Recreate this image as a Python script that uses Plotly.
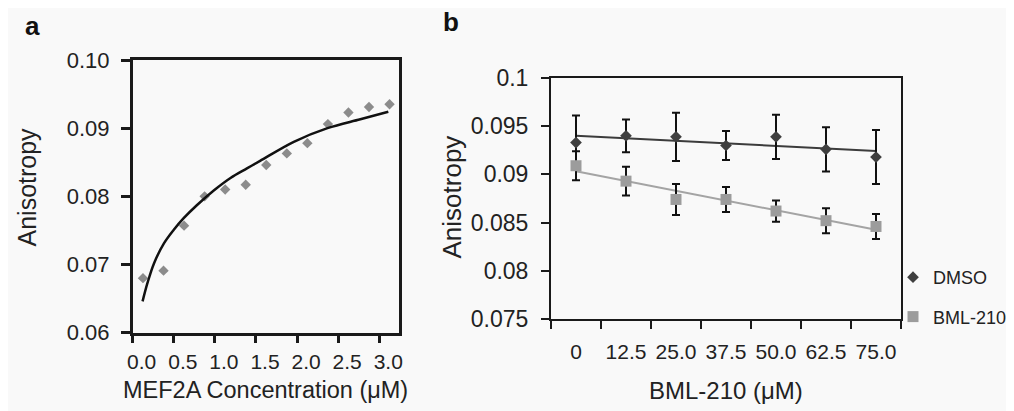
import numpy as np
import plotly.graph_objects as go

W, H = 1014, 411
OFF = 8  # page body margin offset
FONT = "Liberation Sans, Arial, sans-serif"

# ---------------- Panel a data ----------------
mef2a_conc = [0.125, 0.375, 0.625, 0.875, 1.125, 1.375, 1.625, 1.875, 2.125, 2.375, 2.625, 2.875, 3.125]
mef2a_aniso = [0.0680, 0.0691, 0.0757, 0.0800, 0.0810, 0.0817, 0.0846, 0.0863, 0.0878, 0.0906, 0.0923, 0.0931, 0.0935]
fit_conc = [0.12, 0.18, 0.26, 0.38, 0.50, 0.62, 0.78, 0.99, 1.19, 1.39, 1.55, 1.96, 2.37, 2.77, 3.11]
fit_aniso = [0.0646, 0.0673, 0.0702, 0.0731, 0.0751, 0.0768, 0.0787, 0.0809, 0.0827, 0.0841, 0.0852, 0.0880, 0.0900, 0.0913, 0.0924]
a_xticks = [0.0, 0.5, 1.0, 1.5, 2.0, 2.5, 3.0]
a_yticks = [0.06, 0.07, 0.08, 0.09, 0.10]

# ---------------- Panel b data ----------------
bml_categories = ["0", "12.5", "25.0", "37.5", "50.0", "62.5", "75.0"]
dmso_vals = [0.0933, 0.0940, 0.0939, 0.0930, 0.0939, 0.0926, 0.0918]
dmso_err = [0.0028, 0.0017, 0.0025, 0.0015, 0.0023, 0.0023, 0.0028]
bml_vals = [0.0909, 0.0893, 0.0874, 0.0874, 0.0862, 0.0852, 0.0846]
bml_err = [0.0015, 0.0015, 0.0016, 0.0013, 0.0011, 0.0013, 0.0013]
b_yticks = [0.075, 0.08, 0.085, 0.09, 0.095, 0.1]
b_yticktext = ["0.075", "0.08", "0.085", "0.09", "0.095", "0.1"]

# linear trendlines (least squares, as the spreadsheet trendline)
idx = np.arange(1, len(bml_categories) + 1)
dmso_fit = np.polyval(np.polyfit(idx, dmso_vals, 1), idx)
bml_fit = np.polyval(np.polyfit(idx, bml_vals, 1), idx)

def px_x(p):
    return (p - OFF) / W

def px_y(p):
    return 1 - (p - OFF) / H

fig = go.Figure()

# Panel a
fig.add_trace(go.Scatter(x=mef2a_conc, y=mef2a_aniso, mode="markers",
                         marker=dict(symbol="diamond", size=8, color="#8c8c8c"),
                         xaxis="x", yaxis="y", showlegend=False))
fig.add_trace(go.Scatter(x=fit_conc, y=fit_aniso, mode="lines",
                         line=dict(color="#111111", width=2.5, shape="spline"),
                         xaxis="x", yaxis="y", showlegend=False))

# Panel b
fig.add_trace(go.Scatter(x=bml_categories, y=dmso_fit, mode="lines",
                         line=dict(color="#3c3c3c", width=2),
                         xaxis="x2", yaxis="y2", showlegend=False))
fig.add_trace(go.Scatter(x=bml_categories, y=bml_fit, mode="lines",
                         line=dict(color="#a4a4a4", width=2),
                         xaxis="x2", yaxis="y2", showlegend=False))
fig.add_trace(go.Scatter(x=bml_categories, y=dmso_vals, mode="markers", name="DMSO",
                         marker=dict(symbol="diamond", size=9, color="#3f3f3f"),
                         error_y=dict(type="data", array=dmso_err, visible=True,
                                      color="#111111", thickness=2, width=4),
                         xaxis="x2", yaxis="y2", legendgroup="g1"))
fig.add_trace(go.Scatter(x=bml_categories, y=bml_vals, mode="markers", name="BML-210",
                         marker=dict(symbol="square", size=11, color="#9c9c9c"),
                         error_y=dict(type="data", array=bml_err, visible=True,
                                      color="#111111", thickness=2, width=4),
                         xaxis="x2", yaxis="y2", legendgroup="g2"))

axis_common = dict(showgrid=False, zeroline=False, linecolor="#1a1a1a",
                   ticks="outside", tickcolor="#1a1a1a", mirror=True)

tf_x = dict(family=FONT, size=21, color="#222222")
tf_ya = dict(family=FONT, size=22, color="#222222")
tf_yb = dict(family=FONT, size=23, color="#222222")

def ann(text, x, y, size, angle=0, bold=False, color="#222222"):
    return dict(text=f"<b>{text}</b>" if bold else text, x=px_x(x), y=px_y(y),
                xref="paper", yref="paper", xanchor="center", yanchor="middle",
                textangle=angle, showarrow=False,
                font=dict(family=FONT, size=size, color=color))

fig.update_layout(
    width=W, height=H,
    margin=dict(l=0, r=0, t=0, b=0, autoexpand=False),
    paper_bgcolor="#f9f9f9", plot_bgcolor="#f9f9f9",
    font=dict(family=FONT, color="#222222"),
    xaxis=dict(**axis_common, domain=[px_x(132.7), px_x(399)], range=[0, 3.24],
               tickvals=a_xticks, tickformat=".1f", ticklen=8, tickwidth=2.5, linewidth=2.5,
               tickfont=tf_x, ticklabelshift=9, ticklabelstandoff=0, tickangle=0, anchor="y"),
    yaxis=dict(**axis_common, domain=[px_y(332.7), px_y(60)], range=[0.06, 0.10],
               tickvals=a_yticks, tickformat=".2f", ticklen=9, tickwidth=2.5, linewidth=2.5,
               tickfont=tf_ya, ticklabelstandoff=7, anchor="x"),
    xaxis2=dict(**axis_common, domain=[px_x(551), px_x(901)], type="category",
                categoryorder="array", categoryarray=bml_categories,
                range=[-0.5, 6.5], tickson="boundaries", ticklen=8, tickwidth=2, linewidth=2,
                tickfont=tf_x, ticklabelstandoff=13, tickangle=0, anchor="y2"),
    yaxis2=dict(**axis_common, domain=[px_y(319), px_y(78)], range=[0.075, 0.1],
                tickvals=b_yticks, ticktext=b_yticktext, ticklen=8, tickwidth=2, linewidth=2,
                tickfont=tf_yb, ticklabelstandoff=8, anchor="x2"),
    legend=dict(x=px_x(893), y=px_y(259), xanchor="left", yanchor="top",
                font=dict(family=FONT, size=18, color="#222222"),
                bgcolor="rgba(0,0,0,0)", tracegroupgap=13, itemwidth=30),
    annotations=[
        ann("a", 32, 26, 26, bold=True, color="#111111"),
        ann("b", 451, 22, 26, bold=True, color="#111111"),
        ann("MEF2A Concentration (μM)", 265, 390, 23.5),
        ann("Anisotropy", 26, 187.5, 25, angle=-90),
        ann("BML-210 (μM)", 726, 390, 24),
        ann("Anisotropy", 451, 197.5, 26, angle=-90),
    ],
)

fig.write_html("out.html")
